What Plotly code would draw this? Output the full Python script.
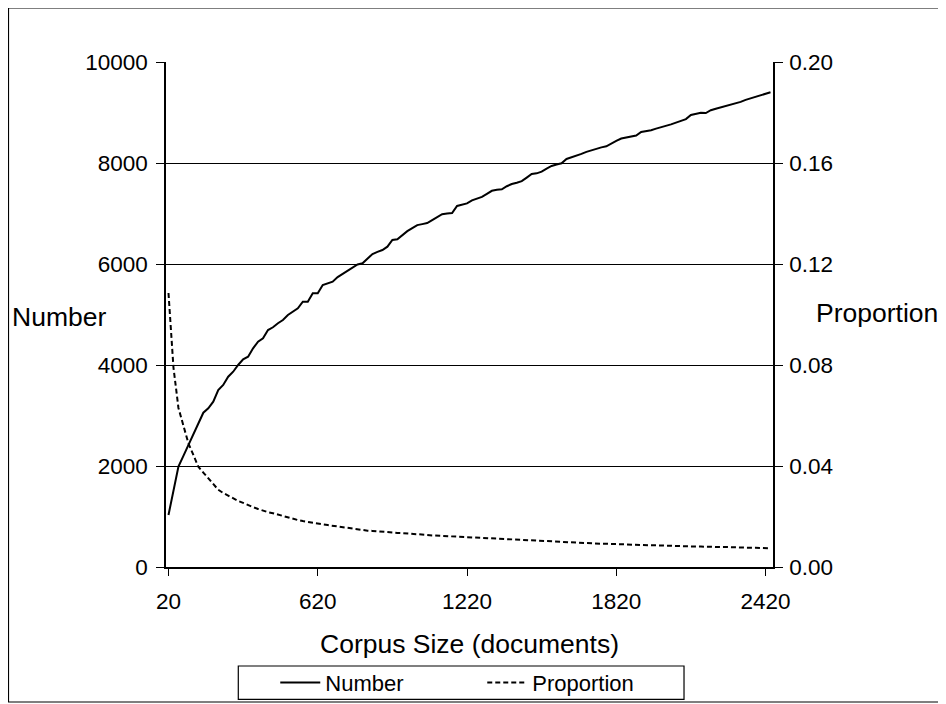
import plotly.graph_objects as go

# Corpus size categories (documents), step 20
docs = list(range(20, 2460, 20))

number = [
    1030, 1510, 1990, 2200, 2410, 2630, 2840, 3055, 3143, 3273,
    3505, 3604, 3768, 3867, 4000, 4113, 4164, 4331, 4461, 4529,
    4693, 4747, 4826, 4891, 4990, 5055, 5123, 5253, 5253, 5420,
    5420, 5584, 5620, 5650, 5740, 5800, 5860, 5915, 5990, 6014,
    6100, 6198, 6240, 6277, 6343, 6475, 6489, 6570, 6650, 6710,
    6770, 6790, 6810, 6870, 6930, 6985, 7000, 7010, 7150, 7170,
    7200, 7260, 7300, 7330, 7390, 7450, 7470, 7480, 7540, 7584,
    7610, 7640, 7710, 7782, 7795, 7830, 7890, 7941, 7970, 7995,
    8080, 8110, 8150, 8180, 8220, 8250, 8290, 8310, 8330, 8390,
    8440, 8485, 8505, 8520, 8545, 8615, 8630, 8650, 8680, 8705,
    8725, 8765, 8800, 8830, 8870, 8950, 8980, 8995, 8990, 9045,
    9075, 9100, 9135, 9165, 9190, 9210, 9250, 9280, 9320, 9345,
    9370, 9400,
]

proportion = [
    0.1085, 0.0790, 0.0630, 0.0555, 0.0490, 0.0444, 0.0397, 0.0374, 0.0351, 0.0328,
    0.0306, 0.0293, 0.0282, 0.0270, 0.0262, 0.0254, 0.0244, 0.0237, 0.0230, 0.0223,
    0.0217, 0.0213, 0.0207, 0.0201, 0.0196, 0.0191, 0.0186, 0.0182, 0.0178, 0.0176,
    0.0172, 0.0169, 0.0166, 0.0163, 0.0160, 0.0157, 0.0154, 0.0151, 0.0148, 0.0146,
    0.0144, 0.0143, 0.0141, 0.0140, 0.0138, 0.0137, 0.0135, 0.0134, 0.0133, 0.0131,
    0.0130, 0.0128, 0.0127, 0.0125, 0.0124, 0.0123, 0.0122, 0.0121, 0.0120, 0.0119,
    0.0118, 0.0117, 0.0115, 0.0114, 0.0113, 0.0112, 0.0111, 0.0110, 0.0108, 0.0107,
    0.0106, 0.0105, 0.0104, 0.0103, 0.0102, 0.0101, 0.0100, 0.0100, 0.0099, 0.0098,
    0.0097, 0.0096, 0.0095, 0.0095, 0.0094, 0.0094, 0.0093, 0.0092, 0.0092, 0.0091,
    0.0091, 0.0090, 0.0089, 0.0089, 0.0088, 0.0088, 0.0087, 0.0086, 0.0086, 0.0085,
    0.0084, 0.0084, 0.0083, 0.0083, 0.0082, 0.0082, 0.0081, 0.0081, 0.0080, 0.0080,
    0.0080, 0.0079, 0.0079, 0.0078, 0.0078, 0.0077, 0.0077, 0.0076, 0.0076, 0.0075,
    0.0075, 0.0074,
]

x_ticks = [20, 620, 1220, 1820, 2420]
left_ticks = [0, 2000, 4000, 6000, 8000, 10000]
right_ticks = [0.00, 0.04, 0.08, 0.12, 0.16, 0.20]

FONT = "Liberation Sans, Arial, sans-serif"

fig = go.Figure()
fig.add_trace(go.Scatter(
    x=docs, y=number, name="Number", mode="lines",
    line=dict(color="black", width=2), yaxis="y",
))
fig.add_trace(go.Scatter(
    x=docs, y=proportion, name="Proportion", mode="lines",
    line=dict(color="black", width=2, dash="5px,3px"), yaxis="y2",
))

fig.update_layout(
    width=938, height=696,
    margin=dict(l=158, r=173, t=54, b=137, autoexpand=False),
    paper_bgcolor="white", plot_bgcolor="white",
    font=dict(family=FONT, color="black", size=22),
    showlegend=True,
    legend=dict(
        orientation="h", x=0.180, y=-0.229, xanchor="left", yanchor="middle",
        bgcolor="rgba(0,0,0,0)", borderwidth=0, itemwidth=40,
        font=dict(size=22, family=FONT), entrywidth=152,
    ),
    xaxis=dict(
        range=[10, 2450], tickmode="array", tickvals=x_ticks,
        ticktext=[str(v) for v in x_ticks],
        ticks="outside", ticklen=7, tickcolor="black", tickwidth=1,
        showline=True, linecolor="black", linewidth=1.5,
        showgrid=False, zeroline=False, ticklabelstandoff=6,
        tickfont=dict(size=22.5),
    ),
    yaxis=dict(
        range=[0, 10000], tickmode="array", tickvals=left_ticks,
        tickformat="d",
        ticks="outside", ticklen=8, tickcolor="black", tickwidth=1,
        showline=True, linecolor="black", linewidth=1.5,
        showgrid=True, gridcolor="black", gridwidth=1,
        zeroline=False, ticklabelstandoff=4, tickfont=dict(size=22.5),
    ),
    yaxis2=dict(
        range=[0, 0.20], tickmode="array", tickvals=right_ticks,
        tickformat=".2f", overlaying="y", side="right",
        ticks="outside", ticklen=8, tickcolor="black", tickwidth=1,
        showline=True, linecolor="black", linewidth=1.5,
        showgrid=False, zeroline=False, ticklabelstandoff=2,
        tickfont=dict(size=22.5),
    ),
    annotations=[
        dict(text="Number", xref="paper", yref="paper", x=-0.1756, y=0.495,
             xanchor="center", yanchor="middle", showarrow=False,
             font=dict(size=26.5, family=FONT)),
        dict(text="Proportion", xref="paper", yref="paper", x=1.1713, y=0.503,
             xanchor="center", yanchor="middle", showarrow=False,
             font=dict(size=26.5, family=FONT)),
        dict(text="Corpus Size (documents)", xref="paper", yref="paper",
             x=0.5, y=-0.1525, xanchor="center", yanchor="middle",
             showarrow=False, font=dict(size=26.5, family=FONT)),
    ],
    shapes=[
        # chart-area border
        dict(type="rect", xref="paper", yref="paper",
             x0=-0.2595, x1=1.2785, y0=-0.2673, y1=1.1069,
             line=dict(color="black", width=1.2), fillcolor="rgba(0,0,0,0)"),
        # legend box
        dict(type="rect", xref="paper", yref="paper",
             x0=0.1191, x1=0.8534, y0=-0.2620, y1=-0.1960,
             line=dict(color="black", width=1.2), fillcolor="rgba(0,0,0,0)"),
    ],
)

fig.write_html("out.html")
